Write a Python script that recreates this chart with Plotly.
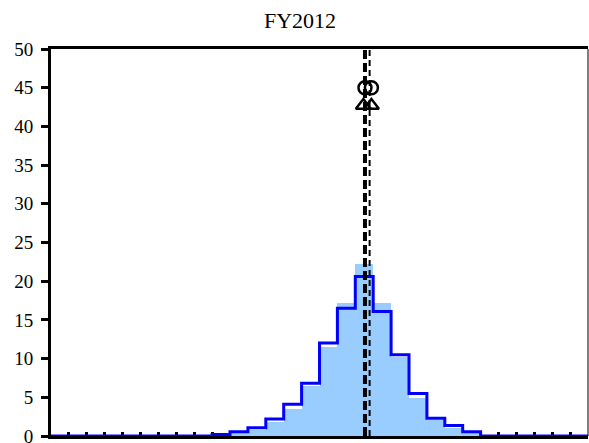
import plotly.graph_objects as go

# Bin index (each bin spans [k, k+1]); axis has no tick labels
bin_left = list(range(30))
# light-blue filled histogram
hist_fill = [0, 0, 0, 0, 0, 0, 0, 0, 0, 0.1, 0.35, 0.8, 1.85, 3.5, 6.5, 11.5,
             17.2, 22.2, 17.2, 10.2, 4.9, 2.1, 1.0, 0.35, 0, 0, 0, 0, 0, 0]
# blue step outline histogram
hist_line = [0, 0, 0, 0, 0, 0, 0, 0, 0, 0.2, 0.55, 1.07, 2.2, 4.1, 6.8, 12.0,
             16.5, 20.6, 16.1, 10.5, 5.5, 2.3, 1.35, 0.55, 0, 0, 0, 0, 0, 0]
# mean lines (thick dashed, thin dashed)
mean_thick = 17.54
mean_thin = 17.8
# markers
circle_x = [17.54, 17.9]
circle_y = [45, 45]
tri_x = [17.45, 17.9]
tri_y = [42.7, 42.7]
title_text = "FY2012"

FONT = "Liberation Serif, Times New Roman, serif"

fig = go.Figure()
fig.add_trace(go.Bar(
    x=[k + 0.5 for k in bin_left], y=hist_fill, width=1,
    marker=dict(color="#99CCFF", line=dict(width=0)), showlegend=False))

edges = bin_left + [30]
fig.add_trace(go.Scatter(
    x=edges, y=hist_line + [hist_line[-1]], mode="lines",
    line=dict(shape="hv", color="#0000FF", width=3), showlegend=False))

fig.add_trace(go.Scatter(
    x=[mean_thick, mean_thick], y=[0, 50], mode="lines",
    line=dict(color="black", width=4, dash="9px,4px"), showlegend=False))
fig.add_trace(go.Scatter(
    x=[mean_thin, mean_thin], y=[0, 50], mode="lines",
    line=dict(color="black", width=2, dash="6px,4px"), showlegend=False))

fig.add_trace(go.Scatter(
    x=circle_x, y=circle_y, mode="markers",
    marker=dict(symbol="circle-open", size=13, color="black",
                line=dict(width=2.5, color="black")), showlegend=False))
fig.add_trace(go.Scatter(
    x=tri_x, y=tri_y, mode="markers",
    marker=dict(symbol="triangle-up-open", size=13, color="black",
                line=dict(width=2.5, color="black")), showlegend=False))

fig.update_layout(
    width=589, height=443,
    margin=dict(l=51, r=1, t=49, b=7, autoexpand=False),
    paper_bgcolor="white", plot_bgcolor="white",
    bargap=0,
    font=dict(family=FONT, color="black", size=18),
    title=dict(text=title_text, x=300 / 589, xanchor="center",
               y=1 - 20 / 443, yanchor="middle", yref="container",
               font=dict(family=FONT, size=22, color="black")),
    xaxis=dict(range=[0, 30], dtick=1, tick0=0, ticks="inside", ticklen=4,
               tickwidth=3, tickcolor="black", showticklabels=False,
               showline=True, linewidth=3, linecolor="black", mirror=True,
               showgrid=False, zeroline=False, layer="below traces",
               automargin=False),
    yaxis=dict(range=[0, 50], dtick=5, tick0=0, ticks="outside", ticklen=7,
               tickwidth=3, tickcolor="black", showline=True, linewidth=3,
               linecolor="black", showgrid=False, zeroline=False,
               tickfont=dict(family=FONT, size=19, color="black"),
               ticklabelstandoff=4, automargin=False,
               ticklabeloverflow="allow"),
    shapes=[dict(type="line", xref="paper", yref="paper", x0=1, x1=1,
                 y0=0, y1=1, line=dict(color="black", width=1))],
)

fig.write_html(
    "out.html",
    config={"displayModeBar": False},
    post_script="document.body.style.margin='0';"
                "document.body.style.padding='0';"
                "document.body.style.overflow='hidden';",
)
